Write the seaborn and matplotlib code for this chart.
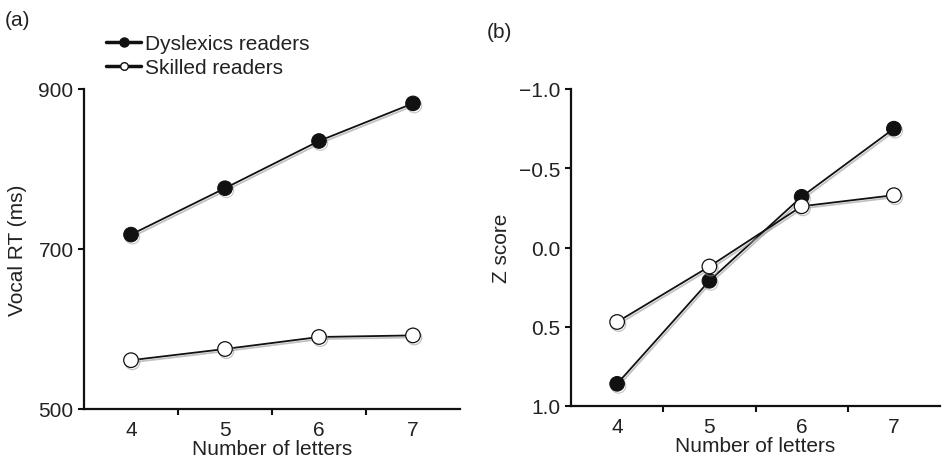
import matplotlib
matplotlib.use("Agg")
import matplotlib.pyplot as plt
import matplotlib.patheffects as pe
from matplotlib.lines import Line2D
import seaborn as sns
import pandas as pd

letters = [4, 5, 6, 7]
groups = ["Dyslexics readers", "Skilled readers"]
rt_dyslexic = [718, 776, 835, 882]
rt_skilled = [561, 575, 590, 592]
z_dyslexic = [0.86, 0.21, -0.32, -0.75]
z_skilled = [0.47, 0.12, -0.26, -0.33]
rt_ticks = [500, 700, 900]
z_ticks = [-1.0, -0.5, 0.0, 0.5, 1.0]
z_ticklabels = ["\u22121.0", "\u22120.5", "0.0", "0.5", "1.0"]

FS = 15
sns.set_style("ticks")
plt.rcParams["font.family"] = ["Liberation Sans", "DejaVu Sans"]
plt.rcParams["font.size"] = FS
plt.rcParams["text.color"] = "#222222"

df = pd.DataFrame({
    "letters": letters * 4,
    "group": [groups[0]] * 4 + [groups[1]] * 4 + [groups[0]] * 4 + [groups[1]] * 4,
    "panel": ["a"] * 8 + ["b"] * 8,
    "value": rt_dyslexic + rt_skilled + z_dyslexic + z_skilled,
})

fig = plt.figure(figsize=(9.44, 4.64), dpi=100)
W, H = 944, 464
ax_a = fig.add_axes([84 / W, 1 - 410 / H, (460 - 84) / W, (410 - 90) / H])
ax_b = fig.add_axes([571 / W, 1 - 407 / H, (940 - 571) / W, (407 - 90) / H])

shadow = [pe.SimpleLineShadow(offset=(1.0, -1.5), shadow_color="0.6", alpha=0.6), pe.Normal()]
styles = {
    groups[0]: dict(marker="o", markersize=10.5, markerfacecolor="#111111", markeredgecolor="#111111"),
    groups[1]: dict(marker="o", markersize=10.5, markerfacecolor="white", markeredgecolor="#111111",
                    markeredgewidth=0.9),
}

for ax, panel in [(ax_a, "a"), (ax_b, "b")]:
    for g in groups:
        sub = df[(df.panel == panel) & (df.group == g)]
        sns.lineplot(data=sub, x="letters", y="value", ax=ax, color="#111111", linewidth=1.3,
                     path_effects=shadow, legend=False, **styles[g])
    ax.set_xlim(3.5, 7.5)
    ax.set_xticks(letters)
    ax.set_xticklabels([str(v) for v in letters])
    ax.set_xticks([4.5, 5.5, 6.5], minor=True)
    ax.tick_params(axis="x", which="major", length=0, pad=8, labelsize=FS, labelcolor="#222222")
    ax.tick_params(axis="x", which="minor", length=4, width=1.5, direction="out", color="#111111")
    ax.tick_params(axis="y", which="major", length=4, width=1.5, labelsize=FS, color="#111111",
                   labelcolor="#222222")
    ax.set_xlabel("Number of letters", fontsize=FS, labelpad=0, color="#222222")
    for s in ["top", "right"]:
        ax.spines[s].set_visible(False)
    for s in ["left", "bottom"]:
        ax.spines[s].set_linewidth(1.6)
        ax.spines[s].set_color("#111111")

ax_a.set_ylim(500, 900)
ax_a.set_yticks(rt_ticks)
ax_a.set_ylabel("Vocal RT (ms)", fontsize=FS, labelpad=8, color="#222222")

ax_b.set_ylim(1.0, -1.0)
ax_b.set_yticks(z_ticks)
ax_b.set_yticklabels(z_ticklabels)
ax_b.set_ylabel("Z score", fontsize=FS, labelpad=6, color="#222222")

fig.text(5 / W, 1 - 20 / H, "(a)", fontsize=FS, va="center", ha="left")
fig.text(487 / W, 1 - 33 / H, "(b)", fontsize=FS, va="center", ha="left")

handles = [
    Line2D([], [], color="#111111", linewidth=2.5, marker="o", markersize=6.5,
           markerfacecolor="#111111", markeredgecolor="#111111"),
    Line2D([], [], color="#111111", linewidth=2.5, marker="o", markersize=5.5,
           markerfacecolor="white", markeredgecolor="#111111", markeredgewidth=1.0),
]
fig.legend(handles, groups, loc="upper left", bbox_to_anchor=(106 / W, 1 - 35 / H),
           frameon=False, fontsize=FS, handlelength=1.7, handletextpad=0.15,
           labelspacing=0.25, borderpad=0, borderaxespad=0)

fig.savefig("out.png", dpi=100)
